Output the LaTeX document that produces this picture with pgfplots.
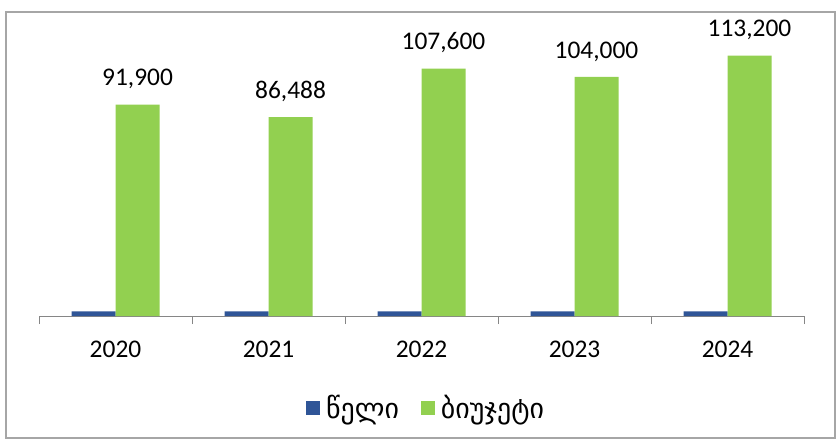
\documentclass[border=0pt]{standalone}
\usepackage{fontspec}
\setmainfont{Carlito}
\newfontfamily\geo{DejaVu Sans}
\usepackage{pgfplots}
\pgfplotsset{compat=1.18}
\definecolor{barblue}{RGB}{47,85,151}
\definecolor{bargreen}{RGB}{146,208,80}
\definecolor{axgray}{RGB}{134,134,134}
\definecolor{framegray}{RGB}{166,166,166}
\begin{document}
\begin{tikzpicture}
\path[use as bounding box] (-39bp,-126bp) rectangle (799bp,316bp);
\draw[framegray, line width=1.2bp] (-33bp,-122bp) rectangle (796bp,304bp);
\begin{axis}[
    at={(0,0)}, anchor=south west,
    scale only axis, width=765bp, height=276bp,
    xmin=-0.5, xmax=4.5, ymin=0, ymax=120000,
    ybar=0pt, bar width=44bp,
    axis x line*=bottom, axis y line=none,
    xtick={0,...,4}, xticklabels={2020,2021,2022,2023,2024},
    major tick length=0pt,
    minor xtick={-0.5,0.5,...,4.5}, minor tick length=8bp,
    tick align=outside,
    x axis line style={axgray, line width=1bp},
    minor tick style={axgray, line width=1bp},
    xticklabel style={font=\fontsize{25.5}{30}\selectfont, yshift=-21bp},
    clip=false,
    legend columns=2,
    legend style={at={(0.506,-0.333)}, anchor=center, draw=none,
        font=\geo\fontsize{28}{32}\selectfont,
        /tikz/every odd column/.append style={column sep=4bp},
        /tikz/every even column/.append style={column sep=20bp}},
]
\addplot[fill=barblue, draw=none,
    legend image code/.code={\fill[barblue] (0bp,-7bp) rectangle (14bp,7bp);}]
    coordinates {(0,2020) (1,2021) (2,2022) (3,2023) (4,2024)};
\addlegendentry{წელი}
\addplot[fill=bargreen, draw=none,
    legend image code/.code={\fill[bargreen] (0bp,-7bp) rectangle (14bp,7bp);},
    point meta=explicit symbolic,
    nodes near coords,
    nodes near coords style={font=\fontsize{25.5}{30}\selectfont, anchor=south, yshift=12bp, text=black}]
    coordinates {(0,91900) [91,900] (1,86488) [86,488] (2,107600) [107,600]
                 (3,104000) [104,000] (4,113200) [113,200]};
\addlegendentry{ბიუჯეტი}
\end{axis}
\end{tikzpicture}
\end{document}
